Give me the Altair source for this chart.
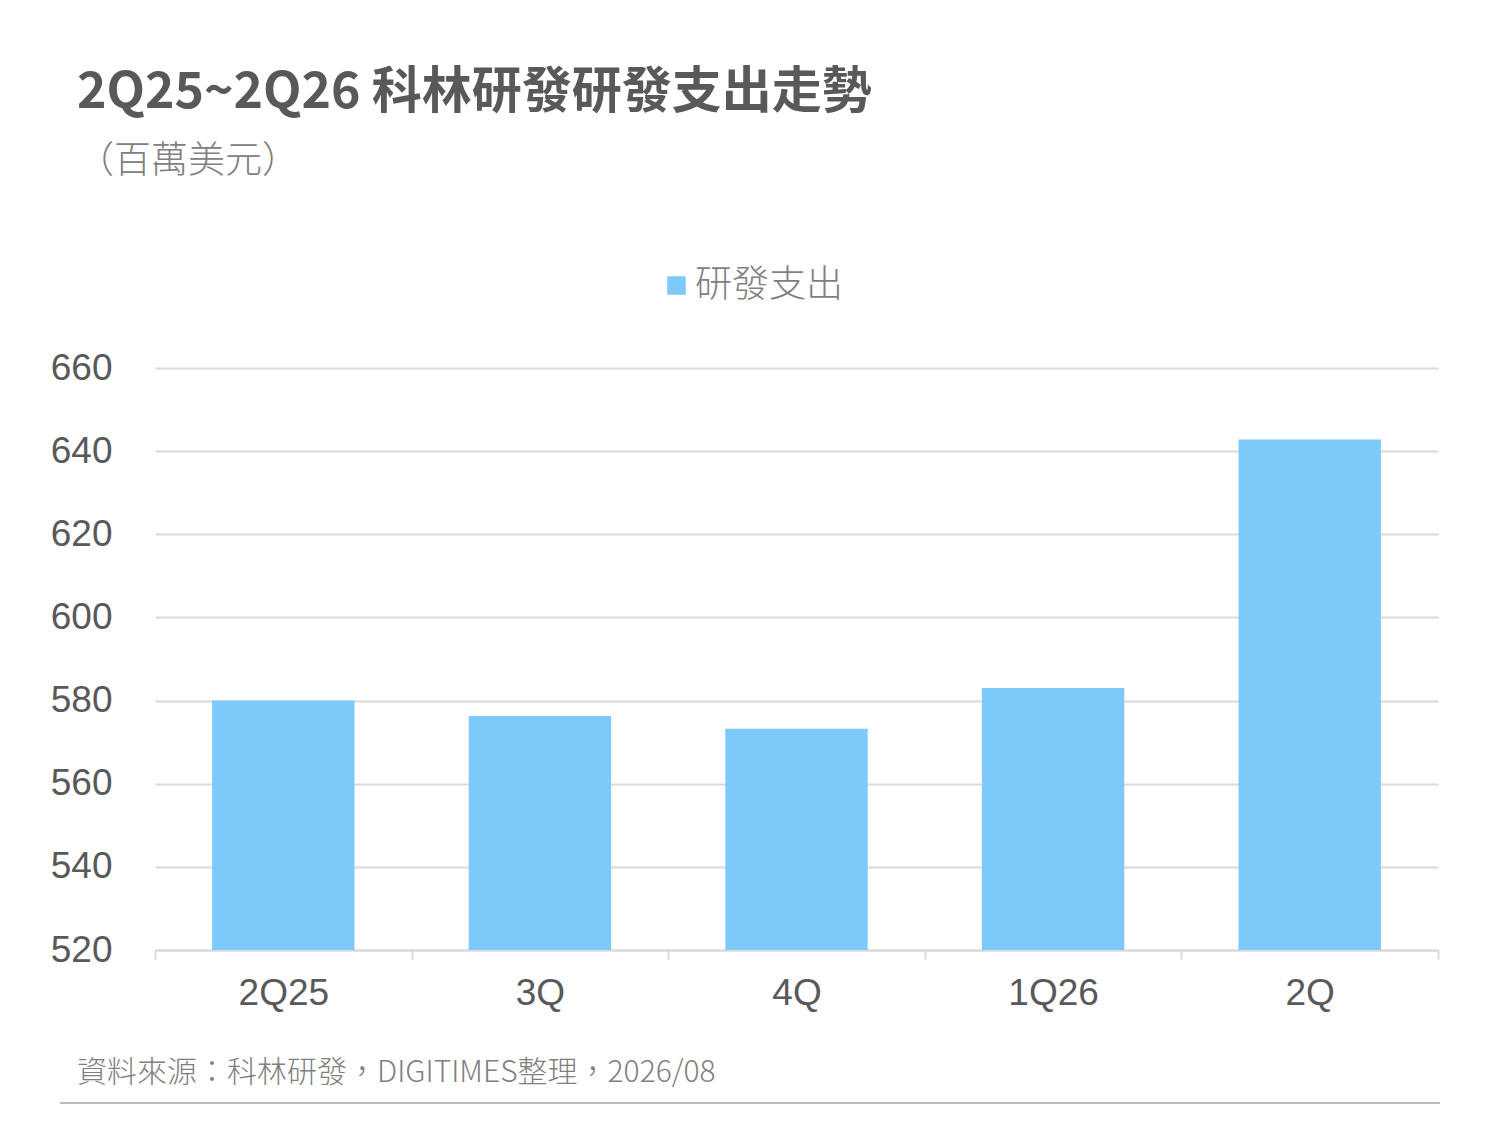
import altair as alt
import pandas as pd

# values (million USD)
quarters = ["2Q25", "3Q", "4Q", "1Q26", "2Q"]
rd_spend = [580.0, 576.3, 573.2, 583.0, 642.8]
y_ticks = [520, 540, 560, 580, 600, 620, 640, 660]
series_name = "研發支出"

title_text = "2Q25~2Q26 科林研發研發支出走勢"
unit_text = "（百萬美元）"
source_text = "資料來源：科林研發，DIGITIMES整理，2026/08"

BAR = "#7dc9f9"
TXT = "#595959"
CJK = "Noto Sans CJK TC"

df = pd.DataFrame({"q": quarters, "v": rd_spend, "s": series_name})

bars = alt.Chart(df).mark_bar(color=BAR, width=alt.RelativeBandSize(0.555)).encode(
    x=alt.X("q:N", sort=quarters, title=None,
            scale=alt.Scale(paddingInner=0, paddingOuter=0),
            axis=alt.Axis(labelAngle=0, labelFont="Liberation Sans", labelFontSize=37,
                          labelColor=TXT, domainColor="#d9d9d9", domainWidth=2,
                          tickColor="#d9d9d9", tickWidth=2, tickSize=9, tickBand="extent",
                          labelPadding=16, grid=False)),
    y=alt.Y("v:Q", title=None,
            scale=alt.Scale(domain=[520, 660], zero=False, nice=False),
            axis=alt.Axis(values=y_ticks, labelFont="Liberation Sans", labelFontSize=37,
                          labelColor=TXT, domain=False, ticks=False, labelPadding=43,
                          gridColor="#d9d9d9", gridWidth=2)),
    y2=alt.datum(520),
    color=alt.Color("s:N", scale=alt.Scale(domain=[series_name], range=[BAR]),
                    legend=alt.Legend(title=None, orient="none", legendX=503, legendY=-101,
                                      symbolType="square", symbolSize=340, symbolStrokeWidth=0,
                                      labelFont=CJK, labelFontSize=37, labelColor="#7f7f7f",
                                      labelFontWeight=300, labelOffset=0, padding=0)),
)

def label(text, x, y, size, color, weight="normal"):
    return alt.Chart(pd.DataFrame({"t": [text]})).mark_text(
        align="left", baseline="alphabetic", font=CJK, fontSize=size,
        fontWeight=weight, color=color,
    ).encode(x=alt.value(x), y=alt.value(y), text="t:N")

title = label(title_text, -78, -260, 50, TXT, "bold")
unit = label(unit_text, -78, -195, 37, "#808080", 300)
source = label(source_text, -78, 714, 30, "#7f7f7f", 300)

bottom_line = alt.Chart(pd.DataFrame({"a": [0]})).mark_rule(color="#a6a6a6", strokeWidth=1.5).encode(
    x=alt.value(-95), x2=alt.value(1285), y=alt.value(735)
)

chart = alt.layer(bars, title, unit, source, bottom_line).properties(
    width=1283, height=582,
    background="white",
    autosize=alt.AutoSizeParams(type="none"),
    padding={"left": 147, "top": 360, "right": 54, "bottom": 167},
).configure_view(strokeWidth=0)

chart.save("out.html", embed_options={"renderer": "svg", "actions": False})
